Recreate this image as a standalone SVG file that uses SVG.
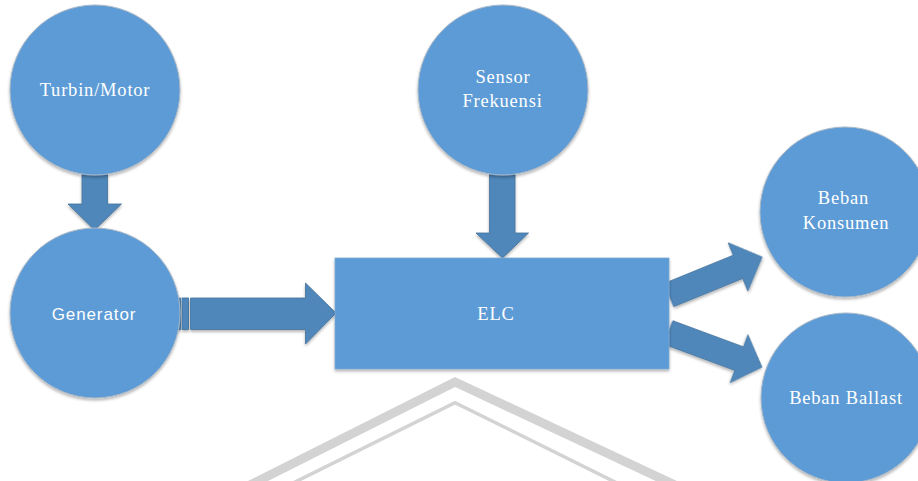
<svg xmlns="http://www.w3.org/2000/svg" width="918" height="481" viewBox="0 0 918 481">
<defs>
<filter id="sh" x="-10%" y="-10%" width="120%" height="125%">
<feGaussianBlur in="SourceAlpha" stdDeviation="1.5"/>
<feOffset dy="1.5"/>
<feComponentTransfer><feFuncA type="linear" slope="0.3"/></feComponentTransfer>
<feMerge><feMergeNode/><feMergeNode in="SourceGraphic"/></feMerge>
</filter>
</defs>
<style>
.node{fill:#5b9bd5;stroke:#a9b7c6;stroke-width:1;filter:url(#sh)}
.rect{fill:#5b9bd5;stroke:#7fa8d0;stroke-width:0.8;filter:url(#sh)}
.arr{fill:#4f87ba;stroke:#41719c;stroke-width:0.8;filter:url(#sh)}
.t{font-family:"Liberation Serif","Times New Roman",serif;font-size:18.5px;letter-spacing:0.8px;fill:#ffffff;text-anchor:middle}
.s{font-family:"Liberation Sans",Arial,sans-serif;font-size:17px;letter-spacing:0.9px;fill:#ffffff;text-anchor:middle}
.wm{fill:none;stroke:#d3d3d3}
</style>
<rect width="918" height="481" fill="#ffffff"/>
<g id="watermark">
<polyline class="wm" points="248,486 455,382 677,486" stroke-width="9"/>
<polyline class="wm" points="285,487 455,402.6 625,487" stroke-width="3.5"/>
</g>
<g id="connectors">
<polygon class="arr" points="82,174 107.5,174 107.5,204 121.5,204 94.5,230 68,204 82,204"/>
<polygon class="arr" points="489.5,174 515,174 515,233 528.5,233 502.5,258 476,233 489.5,233"/>
<rect class="arr" x="177" y="298" width="3.5" height="31.5"/>
<rect class="arr" x="182" y="298" width="6.5" height="31.5"/>
<polygon class="arr" points="190.5,298 305.5,298 305.5,283 336,313 305.5,344 305.5,329.5 190.5,329.5"/>
<polygon class="arr" transform="translate(669,295) rotate(-22.2)" points="0,-12.5 74.6,-12.5 74.6,-26 100.6,0 74.6,26 74.6,12.5 0,12.5"/>
<polygon class="arr" transform="translate(668.5,332.5) rotate(20.3)" points="0,-12.5 75.3,-12.5 75.3,-25.5 99.7,0 75.3,25.5 75.3,12.5 0,12.5"/>
</g>
<g id="turbin">
<circle class="node" cx="95" cy="90" r="85"/>
<text class="t" x="95" y="96">Turbin/Motor</text>
</g>
<g id="generator">
<circle class="node" cx="95" cy="313" r="85"/>
<text class="s" x="94" y="320">Generator</text>
</g>
<g id="sensor">
<circle class="node" cx="503" cy="90" r="85"/>
<text class="t" x="503" y="83.3">Sensor</text>
<text class="t" x="502.5" y="106.7">Frekuensi</text>
</g>
<g id="elc">
<rect class="rect" x="335" y="258" width="334" height="111"/>
<text class="t" x="496" y="320">ELC</text>
</g>
<g id="konsumen">
<circle class="node" cx="845" cy="212" r="85"/>
<text class="t" x="843.5" y="204.3">Beban</text>
<text class="t" x="846" y="229">Konsumen</text>
</g>
<g id="ballast">
<circle class="node" cx="846" cy="398" r="85"/>
<text class="t" x="846" y="404">Beban Ballast</text>
</g>
</svg>
